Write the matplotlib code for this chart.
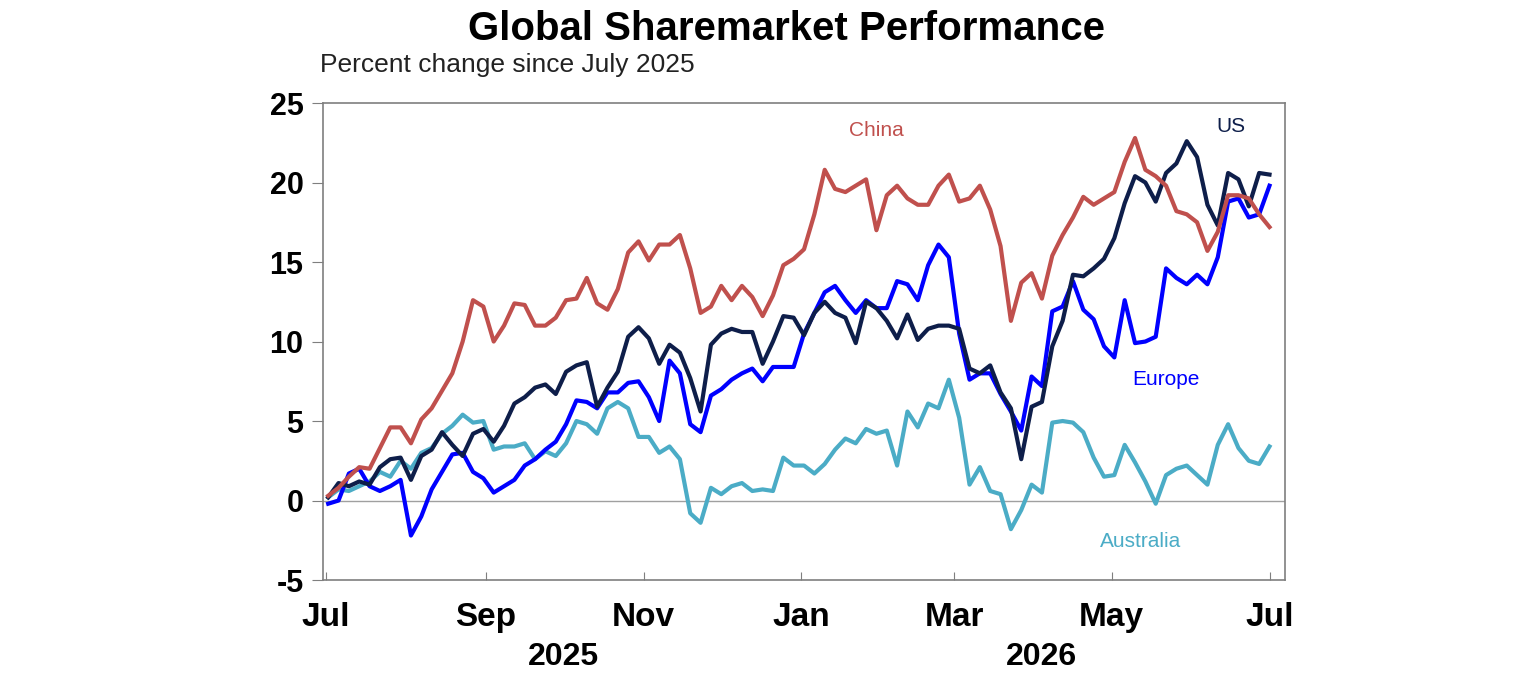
import matplotlib
matplotlib.use("Agg")
import matplotlib.pyplot as plt
import matplotlib.dates as mdates
import matplotlib.transforms as mtransforms
import pandas as pd

plt.rcParams['font.family'] = ['Liberation Sans', 'DejaVu Sans']
plt.rcParams['axes.unicode_minus'] = False

# Observation dates (every 4 days from early July 2025)
dates = pd.date_range('2025-07-02', periods=92, freq='4D')

china = [0.3, 0.8, 1.5, 2.1, 2.0, 3.3, 4.6, 4.6, 3.6, 5.1, 5.8, 6.9, 8.0, 10.0, 12.6, 12.2,
         10.0, 11.0, 12.4, 12.3, 11.0, 11.0, 11.5, 12.6, 12.7, 14.0, 12.4, 12.0, 13.3, 15.6, 16.3,
         15.1, 16.1, 16.1, 16.7, 14.6, 11.8, 12.2, 13.5, 12.6, 13.5, 12.8, 11.6, 12.9, 14.8, 15.2,
         15.8, 18.0, 20.8, 19.6, 19.4, 19.8, 20.2, 17.0, 19.2, 19.8, 19.0, 18.6, 18.6, 19.8, 20.5,
         18.8, 19.0, 19.8, 18.3, 16.0, 11.3, 13.7, 14.3, 12.7, 15.4, 16.7, 17.8, 19.1, 18.6, 19.0,
         19.4, 21.3, 22.8, 20.8, 20.4, 19.8, 18.2, 18.0, 17.5, 15.7, 16.9, 19.2, 19.2, 19.0, 18.0,
         17.2]

us = [0.2, 1.1, 0.9, 1.2, 1.0, 2.1, 2.6, 2.7, 1.3, 2.8, 3.2, 4.3, 3.5, 2.8, 4.2, 4.5,
      3.7, 4.7, 6.1, 6.5, 7.1, 7.3, 6.7, 8.1, 8.5, 8.7, 5.9, 7.1, 8.1, 10.3, 10.9,
      10.2, 8.6, 9.8, 9.3, 7.7, 5.6, 9.8, 10.5, 10.8, 10.6, 10.6, 8.6, 10.0, 11.6, 11.5,
      10.4, 11.8, 12.5, 11.8, 11.5, 9.9, 12.5, 12.1, 11.3, 10.2, 11.7, 10.1, 10.8, 11.0, 11.0,
      10.8, 8.3, 8.0, 8.5, 6.8, 5.8, 2.6, 5.9, 6.2, 9.7, 11.3, 14.2, 14.1, 14.6, 15.2,
      16.5, 18.7, 20.4, 20.0, 18.8, 20.6, 21.2, 22.6, 21.6, 18.6, 17.3, 20.6, 20.2, 18.5, 20.6,
      20.5]

europe = [-0.2, 0.0, 1.7, 2.0, 0.9, 0.6, 0.9, 1.3, -2.2, -1.0, 0.7, 1.8, 2.9, 3.0, 1.8, 1.4,
          0.5, 0.9, 1.3, 2.2, 2.6, 3.2, 3.7, 4.8, 6.3, 6.2, 5.8, 6.8, 6.8, 7.4, 7.5,
          6.5, 5.0, 8.8, 8.0, 4.8, 4.3, 6.6, 7.0, 7.6, 8.0, 8.3, 7.5, 8.4, 8.4, 8.4,
          10.5, 11.8, 13.1, 13.5, 12.6, 11.8, 12.6, 12.1, 12.1, 13.8, 13.6, 12.6, 14.8, 16.1, 15.3,
          10.5, 7.6, 8.0, 8.0, 6.7, 5.6, 4.4, 7.8, 7.2, 11.9, 12.2, 13.8, 12.0, 11.4, 9.7,
          9.0, 12.6, 9.9, 10.0, 10.3, 14.6, 14.0, 13.6, 14.2, 13.6, 15.3, 18.8, 19.0, 17.8, 18.0,
          19.8]

australia = [0.2, 0.7, 0.6, 0.9, 1.2, 1.8, 1.5, 2.5, 2.0, 3.0, 3.3, 4.2, 4.7, 5.4, 4.9, 5.0,
             3.2, 3.4, 3.4, 3.6, 2.6, 3.1, 2.8, 3.6, 5.0, 4.8, 4.2, 5.8, 6.2, 5.8, 4.0,
             4.0, 3.0, 3.4, 2.6, -0.8, -1.4, 0.8, 0.4, 0.9, 1.1, 0.6, 0.7, 0.6, 2.7, 2.2,
             2.2, 1.7, 2.3, 3.2, 3.9, 3.6, 4.5, 4.2, 4.4, 2.2, 5.6, 4.6, 6.1, 5.8, 7.6,
             5.2, 1.0, 2.1, 0.6, 0.4, -1.8, -0.6, 1.0, 0.5, 4.9, 5.0, 4.9, 4.3, 2.7, 1.5,
             1.6, 3.5, 2.4, 1.2, -0.2, 1.6, 2.0, 2.2, 1.6, 1.0, 3.5, 4.8, 3.3, 2.5, 2.3,
             3.4]

series = [("Australia", australia, "#4BACC6"),
          ("Europe", europe, "#0000FF"),
          ("US", us, "#0E1E4A"),
          ("China", china, "#C0504D")]

labels = {"China": ("2026-01-30", 23.3),
          "US": ("2026-06-16", 23.5),
          "Europe": ("2026-05-22", 7.6),
          "Australia": ("2026-05-12", -2.6)}

fig = plt.figure(figsize=(15.36, 6.8), dpi=100)
ax = fig.add_axes([0.2103, 0.147, 0.6263, 0.7015])

ax.axhline(0, color="#A0A0A0", lw=1.0, zorder=1)
for name, vals, col in series:
    ax.plot(dates, vals, color=col, lw=3.0, zorder=3, solid_joinstyle='round')
    lx, ly = labels[name]
    ax.text(pd.Timestamp(lx), ly, name, color=col, fontsize=15, ha="center", va="center")

ax.set_ylim(-5, 25)
ax.set_yticks([-5, 0, 5, 10, 15, 20, 25])
ax.set_xlim(pd.Timestamp("2025-06-30"), pd.Timestamp("2026-07-07"))
ax.xaxis.set_major_locator(mdates.MonthLocator(bymonth=[1, 3, 5, 7, 9, 11]))
ax.xaxis.set_major_formatter(mdates.DateFormatter("%b"))

for s in ax.spines.values():
    s.set_color("#7F7F7F")
    s.set_linewidth(1.2)
ax.tick_params(axis="y", direction="out", length=8, color="#7F7F7F", labelsize=22, pad=6)
ax.tick_params(axis="x", direction="in", length=6, color="#7F7F7F", labelsize=24, pad=16)
for lab in ax.get_xticklabels() + ax.get_yticklabels():
    lab.set_fontweight("bold")

trans = mtransforms.blended_transform_factory(ax.transData, fig.transFigure)
ax.text(pd.Timestamp("2025-10-01"), 0.034, "2025", transform=trans, ha="center", va="center",
        fontsize=23, fontweight="bold")
ax.text(pd.Timestamp("2026-04-04"), 0.034, "2026", transform=trans, ha="center", va="center",
        fontsize=23, fontweight="bold")

fig.text(0.512, 0.958, "Global Sharemarket Performance", ha="center", va="center",
         fontsize=29, fontweight="bold")
fig.text(0.2083, 0.904, "Percent change since July 2025", ha="left", va="center",
         fontsize=19, color="#222222")

fig.savefig("out.png", dpi=100, facecolor="white")
